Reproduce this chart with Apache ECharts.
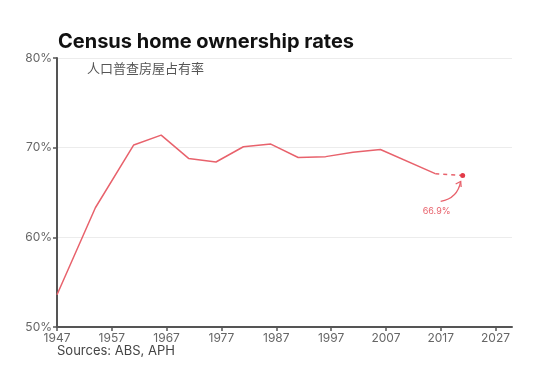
<!DOCTYPE html>
<html>
<head>
<meta charset="utf-8">
<script src="https://cdn.jsdelivr.net/npm/echarts@6/dist/echarts.min.js"></script>
<style>html,body{margin:0;padding:0;background:#fff}#c{width:554px;height:370px}</style>
</head>
<body>
<div id="c"></div>
<script>
const titleText = 'Census home ownership rates';
const subtitleText = '人口普查房屋占有率';
const sourceText = 'Sources: ABS, APH';
const years = [1947, 1954, 1961, 1966, 1971, 1976, 1981, 1986, 1991, 1996, 2001, 2006, 2016];
const ownership = [53.6, 63.3, 70.3, 71.4, 68.8, 68.4, 70.1, 70.4, 68.9, 69.0, 69.5, 69.8, 67.1];
const latestYears = [2016, 2021];
const latestValues = [67.1, 66.9];
const xTickYears = [1947, 1957, 1967, 1977, 1987, 1997, 2007, 2017, 2027];

const FONT = 'Inter, "Noto Sans", sans-serif';
const chart = echarts.init(document.getElementById('c'), null, {renderer: 'canvas'});
const lineColor = '#e8626c';
const last = latestYears.length - 1;
const option = {
  animation: false,
  grid: {left: 57, right: 42, top: 58, bottom: 43, containLabel: false},
  title: {
    text: titleText, left: 53, top: 27,
    textStyle: {fontFamily: FONT, fontWeight: 'bold', fontSize: 20, color: '#111'}
  },
  xAxis: {
    type: 'value', min: 1947, max: 2030,
    axisLine: {show: true, lineStyle: {color: '#555', width: 2}},
    axisTick: {show: true, length: 4, lineStyle: {color: '#555', width: 1.5}, customValues: xTickYears},
    axisLabel: {customValues: xTickYears, color: '#666', fontSize: 12, fontFamily: FONT, margin: 5,
      formatter: v => String(v)},
    splitLine: {show: false}
  },
  yAxis: {
    type: 'value', min: 50, max: 80, interval: 10,
    axisLine: {show: true, lineStyle: {color: '#555', width: 2}},
    axisTick: {show: true, length: 4, lineStyle: {color: '#555', width: 1.5}},
    axisLabel: {color: '#666', fontSize: 12, fontFamily: FONT, margin: 5, formatter: v => v + '%'},
    splitLine: {show: true, lineStyle: {color: '#ececec', width: 1}}
  },
  series: [
    {
      type: 'line', data: years.map((y, i) => [y, ownership[i]]),
      showSymbol: false, symbol: 'none',
      lineStyle: {color: lineColor, width: 1.5}
    },
    {
      type: 'line',
      data: latestYears.map((y, i) => ({value: [y, latestValues[i]], symbol: i === last ? 'circle' : 'none'})),
      symbol: 'circle', symbolSize: 5,
      showAllSymbol: true,
      itemStyle: {color: '#e23a48'},
      lineStyle: {color: lineColor, width: 1.5, type: [4, 4]},
      label: {show: false}
    }
  ],
  graphic: [
    {type: 'text', left: 87, top: 62, style: {text: subtitleText, fontSize: 13, fill: '#555', fontFamily: '"Noto Sans CJK SC", sans-serif'}},
    {type: 'text', left: 57, top: 345, style: {text: sourceText, fontSize: 13, fill: '#444', fontFamily: FONT}}
  ]
};
chart.setOption(option);

const p = chart.convertToPixel({gridIndex: 0}, [latestYears[last], latestValues[last]]);
const start = [p[0] - 22, p[1] + 26];
const end = [p[0] - 2, p[1] + 6];
chart.setOption({
  graphic: option.graphic.concat([
    {type: 'bezierCurve', shape: {x1: start[0], y1: start[1], x2: end[0], y2: end[1], cpx1: end[0] - 3, cpy1: start[1] - 3},
      style: {stroke: '#e8626c', lineWidth: 1.3, fill: null}},
    {type: 'polyline', shape: {points: [[end[0] - 5, end[1] + 2.5], end, [end[0] + 0.5, end[1] + 5.5]]},
      style: {stroke: '#e8626c', lineWidth: 1.3, fill: null}},
    {type: 'text', x: p[0] - 26, y: p[1] + 36, style: {text: latestValues[last].toFixed(1) + '%', fontSize: 9, fill: '#e8626c', fontFamily: FONT, align: 'center', verticalAlign: 'middle'}}
  ])
});
</script>
</body>
</html>
